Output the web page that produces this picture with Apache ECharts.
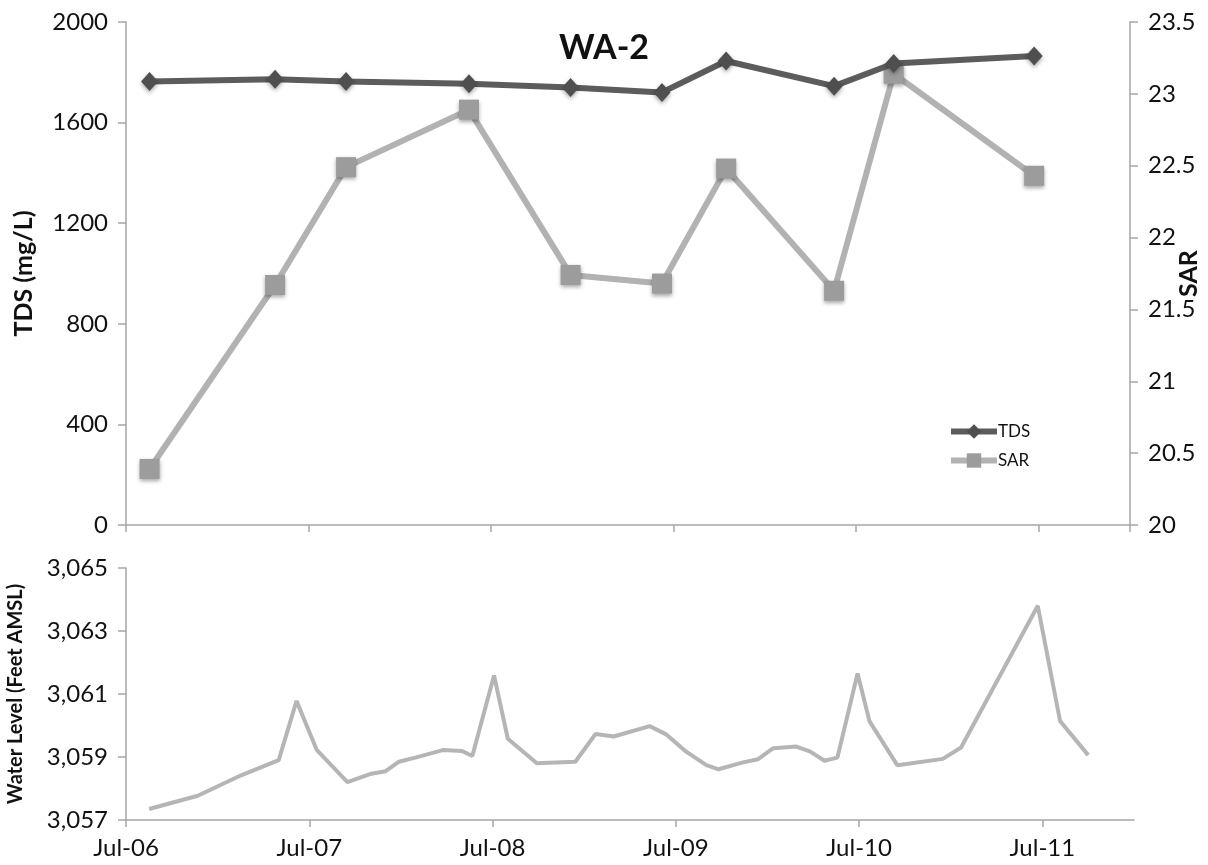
<!DOCTYPE html>
<html>
<head>
<meta charset="utf-8">
<script src="https://cdn.jsdelivr.net/npm/echarts@6/dist/echarts.min.js"></script>
<style>
html,body{margin:0;padding:0;background:#fff;}
#chart{width:1208px;height:865px;}
</style>
</head>
<body>
<div id="chart"></div>
<script>
// ---- Data ----
const sampleDates = ['2006-08-18','2007-04-25','2007-09-15','2008-05-18','2008-12-08','2009-06-08','2009-10-15','2010-05-18','2010-09-15','2011-06-22'];
const tdsValues = [1763, 1772, 1763, 1754, 1740, 1720, 1845, 1745, 1835, 1865];
const sarValues = [20.39, 21.67, 22.49, 22.89, 21.74, 21.68, 22.48, 21.63, 23.14, 22.43];

const levelDates = ['2006-08-17','2006-11-22','2007-02-16','2007-05-01','2007-06-06','2007-07-16','2007-09-16',
  '2007-11-03','2007-12-01','2007-12-28','2008-02-01','2008-03-24','2008-05-01','2008-05-22','2008-07-04',
  '2008-08-01','2008-09-28','2008-12-14','2009-01-24','2009-02-27','2009-05-10','2009-06-13','2009-07-22',
  '2009-09-01','2009-09-25','2009-11-13','2009-12-13','2010-01-13','2010-02-26','2010-03-26','2010-04-23',
  '2010-05-19','2010-06-28','2010-07-22','2010-09-16','2010-12-16','2011-01-22','2011-06-22','2011-08-06','2011-10-01'];
const levelValues = [3057.35,3057.77,3058.42,3058.90,3060.78,3059.23,3058.20,
  3058.47,3058.55,3058.85,3058.99,3059.22,3059.19,3059.03,3061.59,
  3059.58,3058.80,3058.85,3059.73,3059.65,3059.98,3059.71,3059.17,
  3058.74,3058.61,3058.83,3058.93,3059.28,3059.33,3059.17,3058.88,
  3058.98,3061.65,3060.14,3058.74,3058.94,3059.30,3063.80,3060.14,3059.06];

const xTickLabels = ['Jul-06','Jul-07','Jul-08','Jul-09','Jul-10','Jul-11'];
const xStart = '2006-07-01';   // axis origin (Jul-06)
const xSpanMonths = 66;        // axis runs to Jan-12
const xTickMonths = 12;

// ---- helpers: date -> months since axis origin ----
function monthsSince(s){
  const p = s.split('-').map(Number), o = xStart.split('-').map(Number);
  const dim = new Date(p[0], p[1], 0).getDate();
  return (p[0]-o[0])*12 + (p[1]-o[1]) + (p[2]-1)/dim;
}
function pairs(dates, vals){ return dates.map((d,i)=>[monthsSince(d), vals[i]]); }

const FONT = 'Lato';
const axisGray = '#a6a6a6';

const chart = echarts.init(document.getElementById('chart'), null, {renderer:'canvas'});

const baseX = {
  type:'value', min:0, max:xSpanMonths, interval:xTickMonths,
  axisLine:{show:true, onZero:false, lineStyle:{color:axisGray, width:1.5}},
  axisTick:{show:true, length:7, lineStyle:{color:axisGray, width:1.5}},
  splitLine:{show:false}
};

chart.setOption({
  animation:false,
  backgroundColor:'#fff',
  title:{text:'WA-2', left:'center', top:26, textStyle:{fontFamily:FONT, fontSize:34, fontWeight:'bold', color:'#111'}},
  legend:{
    orient:'vertical', left:943, top:418, itemGap:12, itemWidth:46, itemHeight:18,
    lineStyle:{width:6},
    textStyle:{fontFamily:FONT, fontSize:17, color:'#111', padding:[0,0,0,-4]},
    data:['TDS','SAR']
  },
  grid:[
    {left:126, right:78, top:22, height:503, outerBoundsMode:'none', containLabel:false},
    {left:126, right:74, top:568, height:252, outerBoundsMode:'none', containLabel:false}
  ],
  xAxis:[
    Object.assign({}, baseX, {gridIndex:0, axisLabel:{show:false}}),
    Object.assign({}, baseX, {gridIndex:1,
      axisLabel:{show:true, fontFamily:FONT, fontSize:24, color:'#111', margin:16, showMaxLabel:false,
        formatter:function(v){ const i = Math.round(v / xTickMonths); return xTickLabels[i] || ''; }}})
  ],
  yAxis:[
    {type:'value', gridIndex:0, min:0, max:2000, interval:400, position:'left',
     name:'TDS (mg/L)', nameLocation:'middle', nameGap:90, nameRotate:90,
     nameTextStyle:{fontFamily:FONT, fontSize:25, fontWeight:'bold', color:'#111'},
     axisLine:{show:true, lineStyle:{color:axisGray, width:1.5}},
     axisTick:{show:true, inside:false, length:8, lineStyle:{color:axisGray, width:1.5}},
     axisLabel:{fontFamily:FONT, fontSize:24, color:'#111', margin:18, formatter:function(v){ return String(v); }},
     splitLine:{show:false}},
    {type:'value', gridIndex:0, min:20, max:23.5, interval:0.5, position:'right',
     name:'SAR', nameLocation:'middle', nameGap:46, nameRotate:90, nameMoveOverlap:false,
     nameTextStyle:{fontFamily:FONT, fontSize:25, fontWeight:'bold', color:'#111'},
     axisLine:{show:true, lineStyle:{color:axisGray, width:1.5}},
     axisTick:{show:true, length:8, lineStyle:{color:axisGray, width:1.5}},
     axisLabel:{fontFamily:FONT, fontSize:24, color:'#111', margin:18, formatter:function(v){ return String(v); }},
     splitLine:{show:false}},
    {type:'value', gridIndex:1, min:3057, max:3065, interval:2, position:'left',
     name:'Water Level (Feet AMSL)', nameLocation:'middle', nameGap:100, nameRotate:90,
     nameTextStyle:{fontFamily:FONT, fontSize:20, fontWeight:'bold', color:'#111'},
     axisLine:{show:true, lineStyle:{color:axisGray, width:1.5}},
     axisTick:{show:true, length:8, lineStyle:{color:axisGray, width:1.5}},
     axisLabel:{fontFamily:FONT, fontSize:24, color:'#111', margin:18,
       formatter:function(v){ return v.toLocaleString('en-US'); }},
     splitLine:{show:false}}
  ],
  series:[
    {name:'TDS', type:'line', xAxisIndex:0, yAxisIndex:0, data:pairs(sampleDates, tdsValues),
     symbol:'diamond', symbolSize:[17,19], showAllSymbol:true,
     lineStyle:{color:'#5c5c5c', width:6},
     itemStyle:{color:'#4f4f4f', shadowColor:'rgba(0,0,0,0.35)', shadowBlur:4, shadowOffsetY:2},
     z:3},
    {name:'SAR', type:'line', xAxisIndex:0, yAxisIndex:1, data:pairs(sampleDates, sarValues),
     symbol:'rect', symbolSize:20, showAllSymbol:true,
     lineStyle:{color:'#b2b2b2', width:6},
     itemStyle:{color:'#9c9c9c', shadowColor:'rgba(0,0,0,0.35)', shadowBlur:4, shadowOffsetY:2},
     z:2},
    {name:'Water Level', type:'line', xAxisIndex:1, yAxisIndex:2, data:pairs(levelDates, levelValues),
     symbol:'none', lineStyle:{color:'#b5b5b5', width:4}}
  ]
});
</script>
</body>
</html>
